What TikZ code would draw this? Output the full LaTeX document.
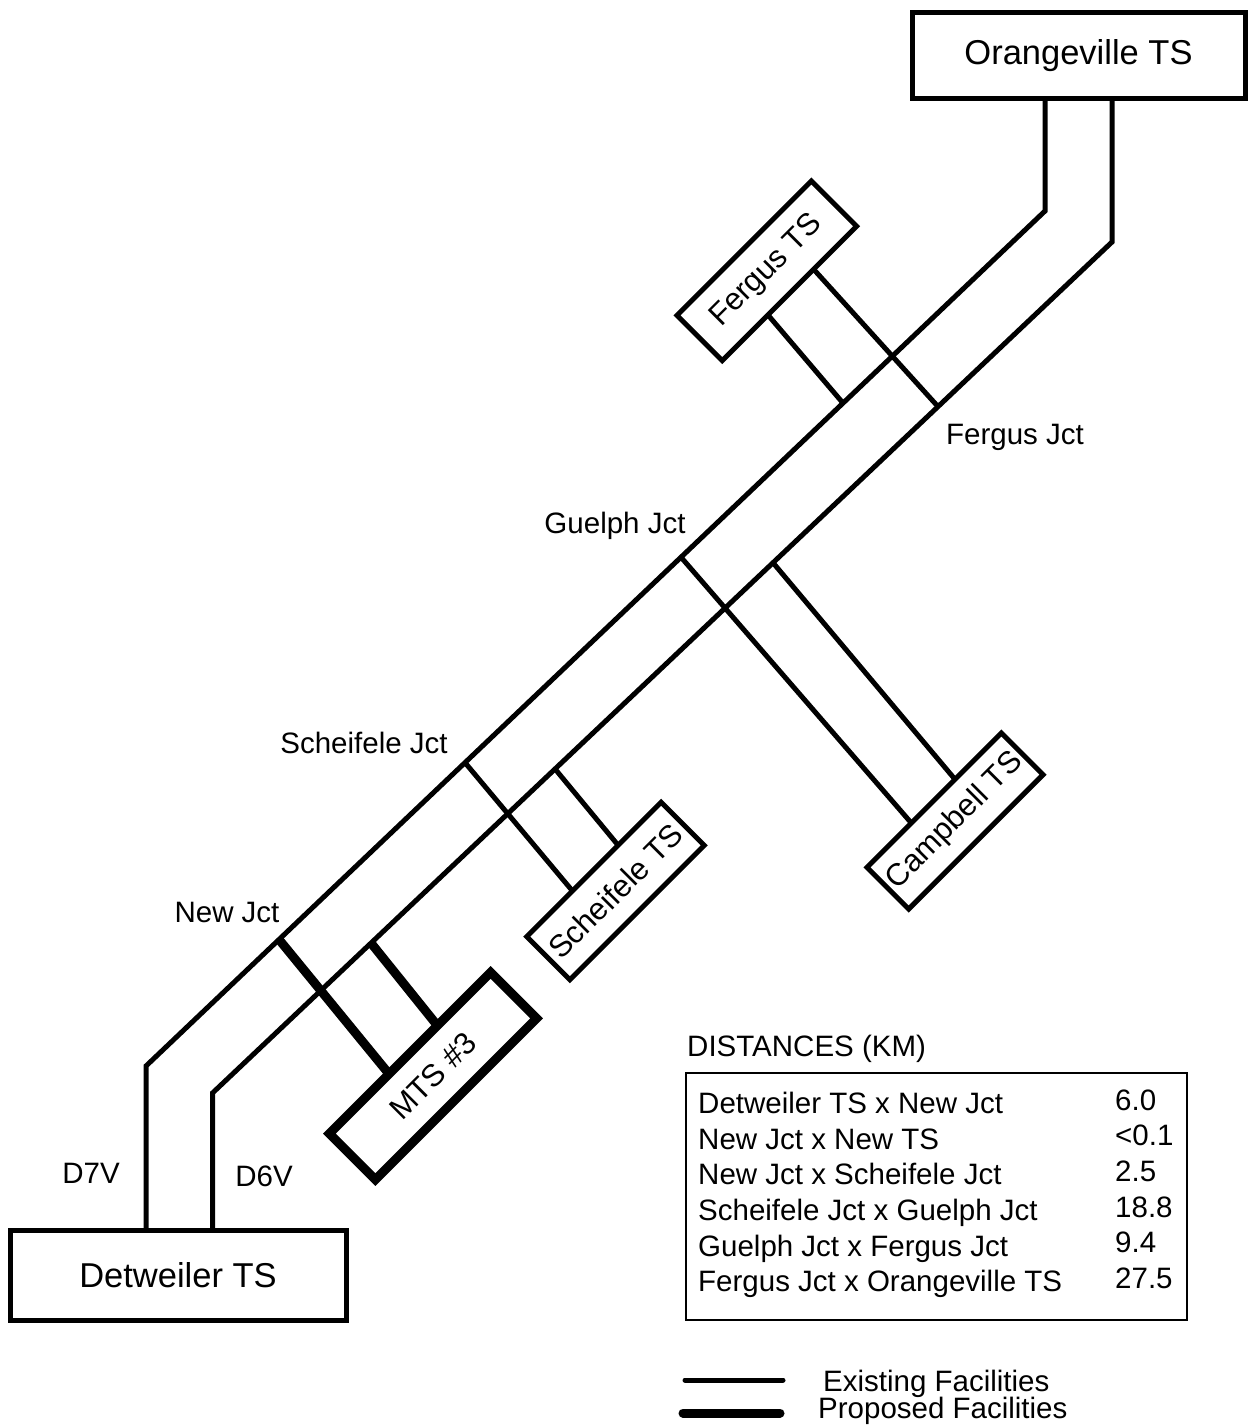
\documentclass[tikz,border=0pt]{standalone}
\usepackage{fontspec}
\setmainfont{Liberation Sans}
\usetikzlibrary{calc}

\tikzset{
  feeder/.style={line width=5pt},
  newfeeder/.style={line width=9pt},
  station/.style={draw, line width=5pt, outer sep=0pt, inner sep=0pt,
    font=\fontsize{34.5}{40}\selectfont},
  tapbox/.style={draw, line width=5pt, outer sep=0pt, inner sep=0pt,
    rotate=45, font=\fontsize{31}{36}\selectfont},
  lbl/.style={inner sep=0pt, anchor=base, font=\fontsize{29.5}{35}\selectfont},
}

\begin{document}
\begin{tikzpicture}[x=1pt,y=-1pt]
  \useasboundingbox (0,0) rectangle (1250,1426);

  % stations:
  \node[station, minimum width=333pt, minimum height=86pt] (orangeville) at (1078.5,56) {Orangeville TS};
  \node[station, minimum width=336pt, minimum height=90pt] (detweiler) at (178,1275) {Detweiler TS};
  \node[tapbox, minimum width=190pt, minimum height=64pt] (fergus) at (766.8,270.8) {Fergus TS};
  \node[tapbox, minimum width=190pt, minimum height=59pt] (campbell) at (955,821) {Campbell TS};
  \node[tapbox, minimum width=190pt, minimum height=61pt] (scheifele) at (615.5,891) {Scheifele TS};
  \node[tapbox, line width=9pt, minimum width=228pt, minimum height=65pt] (mts) at (433,1076) {MTS \#3};

  % bends of the two circuits:
  \coordinate (a1) at (1045,211);
  \coordinate (a2) at (146,1066);
  \coordinate (b1) at (1112,242);
  \coordinate (b2) at (212.5,1093);

  % junctions:
  \coordinate (fj1) at (843,403.1);
  \coordinate (fj2) at (938,406.6);
  \coordinate (gj1) at (681,557.2);
  \coordinate (gj2) at (773,562.7);
  \coordinate (sj1) at (465,762.6);
  \coordinate (sj2) at (555,768.9);
  \coordinate (nj1) at (279,939.5);
  \coordinate (nj2) at (371,943);

  % circuits D7V and D6V:
  \draw[feeder] (orangeville.south -| a1) -- (a1) -- (a2) -- (detweiler.north -| a2);
  \draw[feeder] (orangeville.south -| b1) -- (b1) -- (b2) -- (detweiler.north -| b2);

  % taps:
  \draw[feeder] ($(fergus.south west)!0.34!(fergus.south east)$) -- (fj1);
  \draw[feeder] ($(fergus.south west)!0.68!(fergus.south east)$) -- (fj2);
  \draw[feeder] (gj1) -- ($(campbell.north west)!0.33!(campbell.north east)$);
  \draw[feeder] (gj2) -- ($(campbell.north west)!0.655!(campbell.north east)$);
  \draw[feeder] (sj1) -- ($(scheifele.north west)!0.34!(scheifele.north east)$);
  \draw[feeder] (sj2) -- ($(scheifele.north west)!0.68!(scheifele.north east)$);
  \draw[newfeeder] (nj1) -- ($(mts.north west)!0.37!(mts.north east)$);
  \draw[newfeeder] (nj2) -- ($(mts.north west)!0.67!(mts.north east)$);

  % junction labels:
  \node[lbl] (ferguslbl) at (1015,444) {Fergus Jct};
  \node[lbl] (guelphlbl) at (615,533) {Guelph Jct};
  \node[lbl] (scheifelelbl) at (364,753) {Scheifele Jct};
  \node[lbl] (newlbl) at (227,922.7) {New Jct};
  \node[lbl] (dsevenlbl) at (91,1183) {D7V};
  \node[lbl] (dsixlbl) at (264,1186) {D6V};

  % distances:
  \node[lbl, anchor=base west] (disttitle) at (687,1056.7) {DISTANCES (KM)};
  \node[draw, line width=2pt, inner sep=0pt, minimum width=501pt, minimum height=247pt] (disttable) at (936.5,1196.5) {};
  \foreach \route/\km [count=\i from 0] in {Detweiler TS x New Jct/6.0, New Jct x New TS/<0.1,
      New Jct x Scheifele Jct/2.5, Scheifele Jct x Guelph Jct/18.8,
      Guelph Jct x Fergus Jct/9.4, Fergus Jct x Orangeville TS/27.5}{
    \node[lbl, anchor=base west] (route\i) at (698,1113.3+35.7*\i) {\route};
    \node[lbl, anchor=base west] (km\i) at (1115,1110+35.7*\i) {\km};
  }

  % legend:
  \coordinate (exa) at (685,1380);
  \coordinate (exb) at (783,1380);
  \coordinate (pra) at (683,1413);
  \coordinate (prb) at (780,1413);
  \draw[feeder, line cap=round] (exa) -- (exb);
  \draw[newfeeder, line cap=round] (pra) -- (prb);
  \node[lbl, anchor=base west] (existing) at (823,1391.7) {Existing Facilities};
  \node[lbl, anchor=base west] (proposed) at (818,1418.3) {Proposed Facilities};
\end{tikzpicture}
\end{document}
